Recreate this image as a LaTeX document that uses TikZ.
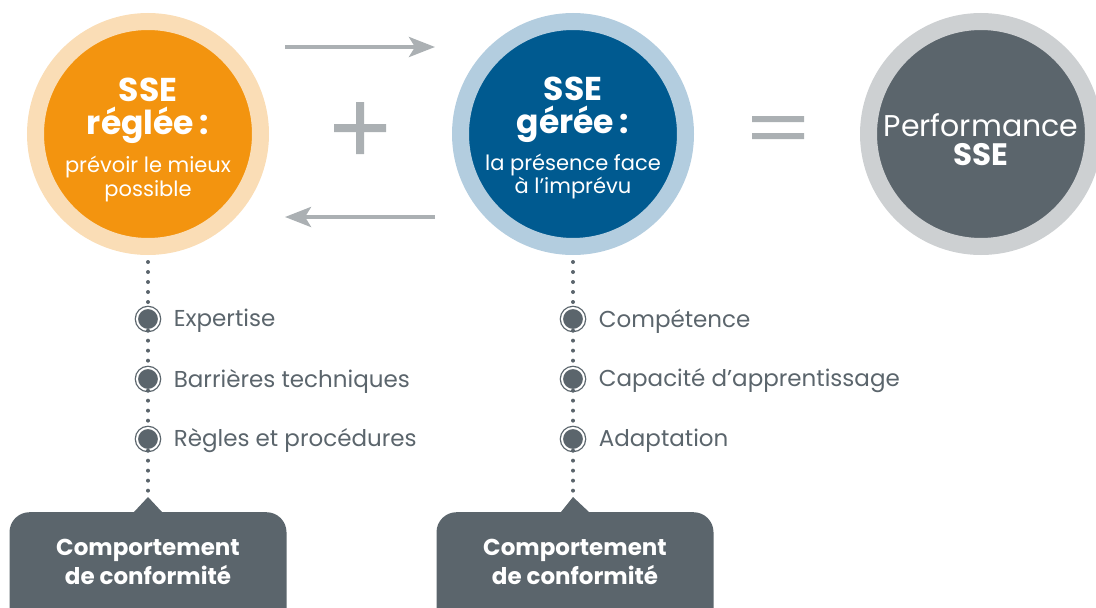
\documentclass[tikz,border=0pt]{standalone}
\usepackage{fontspec}
\setmainfont{Poppins}
\usetikzlibrary{positioning,arrows.meta}
\definecolor{orangeSSE}{HTML}{F3940F}
\definecolor{orangeclair}{HTML}{FADDB6}
\definecolor{bleuSSE}{HTML}{005A90}
\definecolor{bleuclair}{HTML}{B3CDDF}
\definecolor{grisfonce}{HTML}{5B656C}
\definecolor{grisbord}{HTML}{CDD0D2}
\definecolor{grisclair}{HTML}{ABB0B3}
\newcommand{\gros}[1]{{\bfseries\fontsize{33}{33}\selectfont #1}}
\begin{document}
\begin{tikzpicture}[x=1pt,y=-1pt,
    bulle/.style={circle,minimum size=225pt,inner sep=0pt,line width=17pt},
    texte/.style={text=white,align=center,inner sep=0pt,font=\fontsize{21}{33}\selectfont},
    puce/.style={circle,minimum size=22pt,inner sep=0pt,fill=grisfonce,draw=grisfonce,line width=1.3pt,double=white,double distance=2pt},
    item/.style={text=grisfonce,font=\fontsize{23}{28}\selectfont,inner sep=0pt,yshift=-2pt},
    pointille/.style={draw=grisfonce,line width=4pt,line cap=round,dash pattern=on 0pt off 10pt},
    fleche/.style={draw=grisclair,line width=4pt,-{Stealth[length=26pt,width=20pt,inset=6pt]}},
    cadre/.style={fill=grisfonce,rounded corners=20pt,minimum width=277pt,minimum height=150pt,anchor=north},
    titre/.style={text=white,font=\bfseries\fontsize{23}{29}\selectfont,align=center}]

  \clip (0,0) rectangle (1096,608);

  % les trois cercles
  \node[bulle,fill=orangeSSE,draw=orangeclair] (regl) at (148,134) {};
  \node[bulle,fill=bleuSSE,draw=bleuclair] (gere) at (573,134) {};
  \node[bulle,fill=grisfonce,draw=grisbord] (perf) at (981,134) {};
  \node[texte] (treg) at (148,140)
    {\gros{SSE}\\ \gros{réglée\,:}\\[5pt] prévoir le mieux\\[-9pt] possible};
  \node[texte] (tger) at (573,138)
    {\gros{SSE}\\ \gros{gérée\,:}\\[4pt] la présence face\\[-10pt] à l’imprévu};
  \node[texte,font=\fontsize{30}{33}\selectfont] (tperf) at (981,139.5)
    {Performance\\[-4pt] {\bfseries\fontsize{31}{31}\selectfont SSE}};

  % plus, egal, fleches
  \fill[grisclair] (334,124) rectangle (386,132) (356,102) rectangle (364,154);
  \fill[grisclair] (752,116) rectangle (804,122) (752,133) rectangle (804,139);
  \coordinate (a1) at (285,47);  \coordinate (a2) at (435,47);
  \coordinate (b1) at (435,217); \coordinate (b2) at (285,217);
  \draw[fleche] (a1) -- (a2);
  \draw[fleche] (b1) -- (b2);

  % colonne de gauche
  \node[puce] (e1) at (148,319) {};
  \node[puce] (e2) at (148,379) {};
  \node[puce] (e3) at (148,439) {};
  \node[item,right=14pt of e1] (te1) {Expertise};
  \node[item,right=14pt of e2] (te2) {Barrières techniques};
  \node[item,right=14pt of e3] (te3) {Règles et procédures};
  \node[cadre] (c1) at (148,512) {};
  \coordinate (pointe1) at (148,497);
  \fill[grisfonce] ([xshift=-14pt]c1.north) -- (pointe1) -- ([xshift=14pt]c1.north) -- cycle;
  \node[titre] (tc1) at (148,562) {Comportement\\de conformité};
  \path[pointille,shorten <=7pt] (regl) -- (e1);
  \path[pointille] (e1) -- (e2);
  \path[pointille] (e2) -- (e3);
  \path[pointille] (e3) -- (pointe1);

  % colonne du milieu
  \node[puce] (g1) at (573,319) {};
  \node[puce] (g2) at (573,379) {};
  \node[puce] (g3) at (573,439) {};
  \node[item,right=14pt of g1] (tg1) {Compétence};
  \node[item,right=14pt of g2] (tg2) {Capacité d’apprentissage};
  \node[item,right=14pt of g3] (tg3) {Adaptation};
  \node[cadre] (c2) at (575,512) {};
  \coordinate (pointe2) at (573,497);
  \fill[grisfonce] ([xshift=-14pt]c2.north) -- (pointe2) -- ([xshift=14pt]c2.north) -- cycle;
  \node[titre] (tc2) at (575,562) {Comportement\\de conformité};
  \path[pointille,shorten <=7pt] (gere) -- (g1);
  \path[pointille] (g1) -- (g2);
  \path[pointille] (g2) -- (g3);
  \path[pointille] (g3) -- (pointe2);

\end{tikzpicture}
\end{document}
